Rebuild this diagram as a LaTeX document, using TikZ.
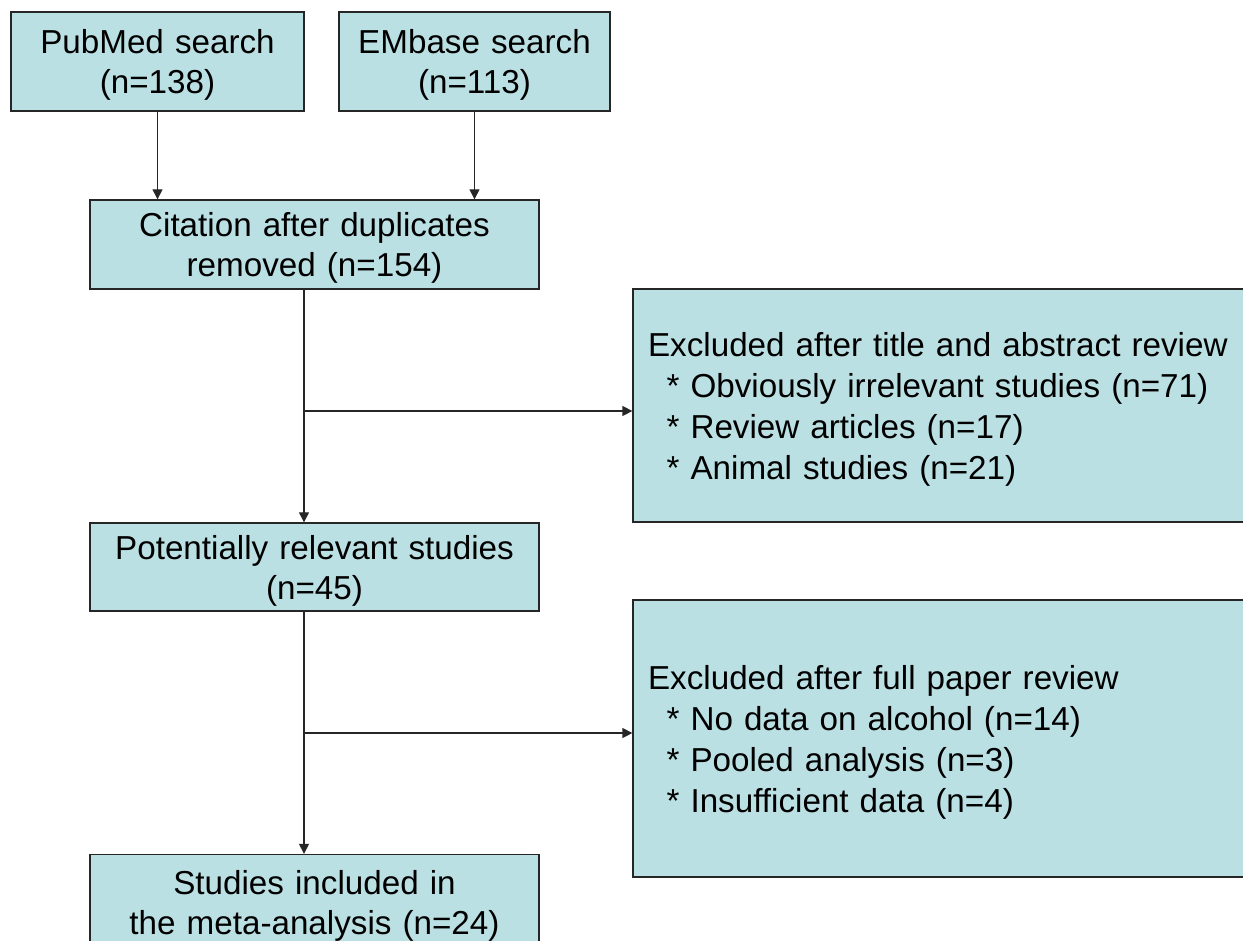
\documentclass[tikz,border=0pt]{standalone}
\usepackage{fontspec}
\setmainfont{Liberation Sans}
\usetikzlibrary{arrows.meta,positioning}
\definecolor{boxfill}{RGB}{187,224,227}
\tikzset{
	>={Triangle[length=2mm,width=2mm]},
	boxbase/.style={draw=black!85, line width=0.8pt, fill=boxfill, inner sep=0pt,
		execute at begin node=\rule{0pt}{18pt}},
	flowbox/.style 2 args={boxbase, align=center, text width=#1, minimum width=#1, minimum height=#2,
		font=\fontsize{18.9pt}{22.7pt}\selectfont},
	exclbox/.style={boxbase, align=left, inner xsep=0.3cm, text width=11.8cm, minimum width=12.4cm,
		minimum height=#1, font=\fontsize{18.9pt}{23.2pt}\selectfont},
	link/.style={->, line width=0.75pt, draw=black!85},
}
\newcommand{\itemstar}{\hspace*{0.37cm}* }

\begin{document}
\begin{tikzpicture}[x=0.02cm, y=-0.02cm]
		\useasboundingbox (0,0) rectangle (1243,940);
		\clip (0,0) rectangle (1243,940);

		\node[flowbox={5.86cm}{1.98cm}] (pubmed) at (157.5,61.5) {PubMed search\\(n=138)};
		\node[flowbox={5.42cm}{1.98cm}] (embase) at (474.5,61.5) {EMbase search\\(n=113)};
		\node[flowbox={8.98cm}{1.78cm}] (citation) at (314.5,244.5) {Citation after duplicates\\removed (n=154)};
		\node[flowbox={8.98cm}{1.76cm}] (relevant) at (314.5,567) {Potentially relevant studies\\(n=45)};
		\node[flowbox={8.98cm}{1.9cm}] (included) at (314.5,902) {Studies included in\\the meta-analysis (n=24)};
		\node[exclbox=4.66cm] (excl1) at (943,405.5) {Excluded after title and abstract review\\
			\itemstar Obviously irrelevant studies (n=71)\\
			\itemstar Review articles (n=17)\\
			\itemstar Animal studies (n=21)};
		\node[exclbox=5.54cm] (excl2) at (943,738.5) {Excluded after full paper review\\
			\itemstar No data on alcohol (n=14)\\
			\itemstar Pooled analysis (n=3)\\
			\itemstar Insufficient data (n=4)};

		\coordinate (spine) at (304,0);
		\coordinate (fork1) at (304,411);
		\coordinate (fork2) at (304,733);

		\draw[link] (pubmed) -- (pubmed |- citation.north);
		\draw[link] (embase) -- (embase |- citation.north);
		\draw[link] (spine |- citation.south) -- (spine |- relevant.north);
		\draw[link] (fork1) -- (fork1 -| excl1.west);
		\draw[link] (spine |- relevant.south) -- (spine |- included.north);
		\draw[link] (fork2) -- (fork2 -| excl2.west);
	\end{tikzpicture}
\end{document}
